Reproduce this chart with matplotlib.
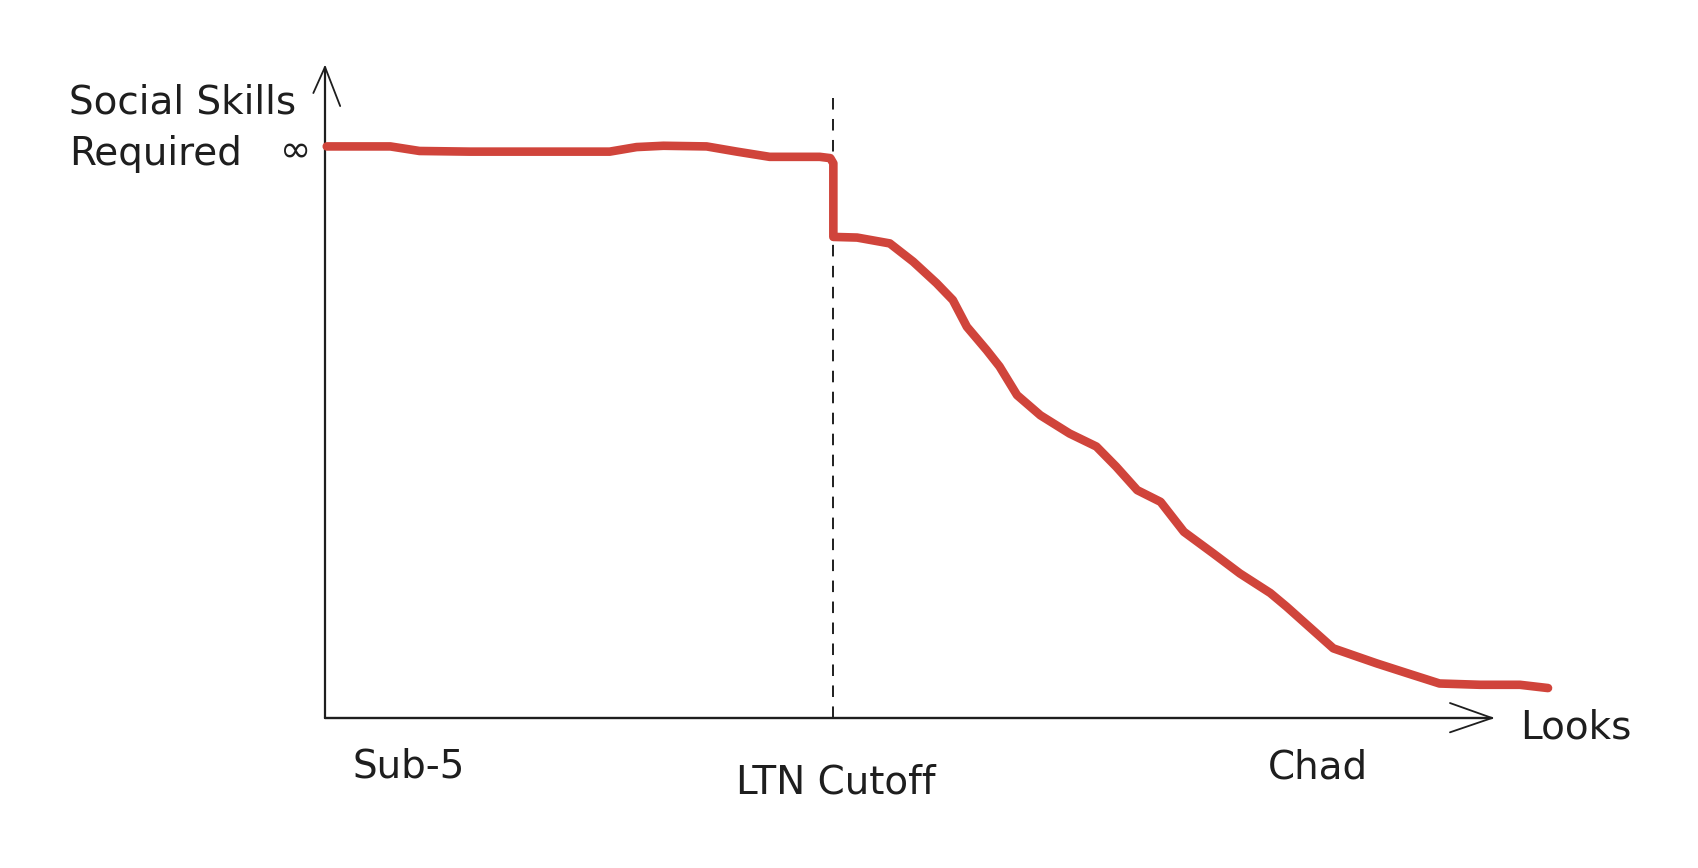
import matplotlib
matplotlib.use("Agg")
import matplotlib.pyplot as plt

# ---- data (in chart units: looks 0..100, social skills 0..100) ----
looks = [0.15, 5.6, 8.1, 12.4, 18.1, 24.4, 26.7, 29.0, 32.7, 35.3, 38.1, 42.4,
         43.3, 43.56, 43.56, 45.6, 48.4, 50.4, 52.4, 53.8, 55.0, 56.7, 57.8,
         59.3, 61.3, 63.8, 66.1, 67.8, 69.6, 71.6, 73.6, 76.1, 78.4, 81.0,
         82.4, 86.4, 90.1, 92.7, 95.5, 99.0, 102.4, 104.8]
skills = [87.8, 87.8, 87.1, 87.0, 87.0, 87.0, 87.7, 87.9, 87.8, 87.0, 86.2, 86.2,
          86.0, 85.2, 73.9, 73.8, 72.9, 70.1, 66.8, 64.2, 60.1, 56.5, 54.0,
          49.6, 46.5, 43.7, 41.7, 38.6, 35.0, 33.2, 28.6, 25.3, 22.2, 19.2,
          17.1, 10.7, 8.4, 6.9, 5.3, 5.1, 5.1, 4.6]
cutoff_x = 43.56
cutoff_top = 95.2
x_labels = ["Sub-5", "LTN Cutoff", "Chad"]
x_label_pos = [7.2, 43.8, 85.1]
x_label_y = [-7.5, -9.9, -7.6]
y_title_lines = ["Social Skills", "Required"]
y_title_y = [94.5, 86.6]
x_title = "Looks"
inf_label = "\u221e"

W, H = 1698, 868
fig = plt.figure(figsize=(W / 100, H / 100), dpi=100)
ax = fig.add_axes([0, 0, 1, 1])
ox, oy = 325, 718          # origin pixel
sx, sy = 1167 / 100, 651 / 100  # pixels per unit
ax.set_xlim(-ox / sx, (W - ox) / sx)
ax.set_ylim(-(H - oy) / sy, oy / sy)
ax.axis("off")

ink = "#1e1e1e"
red = "#d0443b"

# axes lines with arrows
ax.plot([0, 0], [0, 100], color=ink, lw=1.6, solid_capstyle="round")
ax.plot([-1.0, 0, 1.3], [96, 100, 94], color=ink, lw=1.3, solid_capstyle="round",
        solid_joinstyle="miter")
ax.plot([0, 100], [0, 0], color=ink, lw=1.7, solid_capstyle="round")
ax.plot([96.4, 100, 96.4], [2.3, 0, -2.2], color=ink, lw=1.3, solid_capstyle="round")

# dashed cutoff (drawn top-down so the dash pattern starts at the top)
ax.plot([cutoff_x, cutoff_x], [cutoff_top, 0], color=ink, lw=1.4,
        linestyle=(0, (5.93, 4.86)))

# red curve
ax.plot(looks, skills, color=red, lw=6.2, solid_capstyle="round",
        solid_joinstyle="round", zorder=3)

fs = 28
for line, yy in zip(y_title_lines, y_title_y):
    ax.text(-21.9, yy, line, fontsize=fs, color=ink, ha="left", va="center")
ax.text(-2.5, 87.0, inf_label, fontsize=27, color=ink, ha="center", va="center")
for lab, xp, yp in zip(x_labels, x_label_pos, x_label_y):
    ax.text(xp, yp, lab, fontsize=fs, color=ink, ha="center", va="center")
ax.text(102.4, -1.5, x_title, fontsize=fs, color=ink, ha="left", va="center")

fig.savefig("out.png", dpi=100, facecolor="white")
